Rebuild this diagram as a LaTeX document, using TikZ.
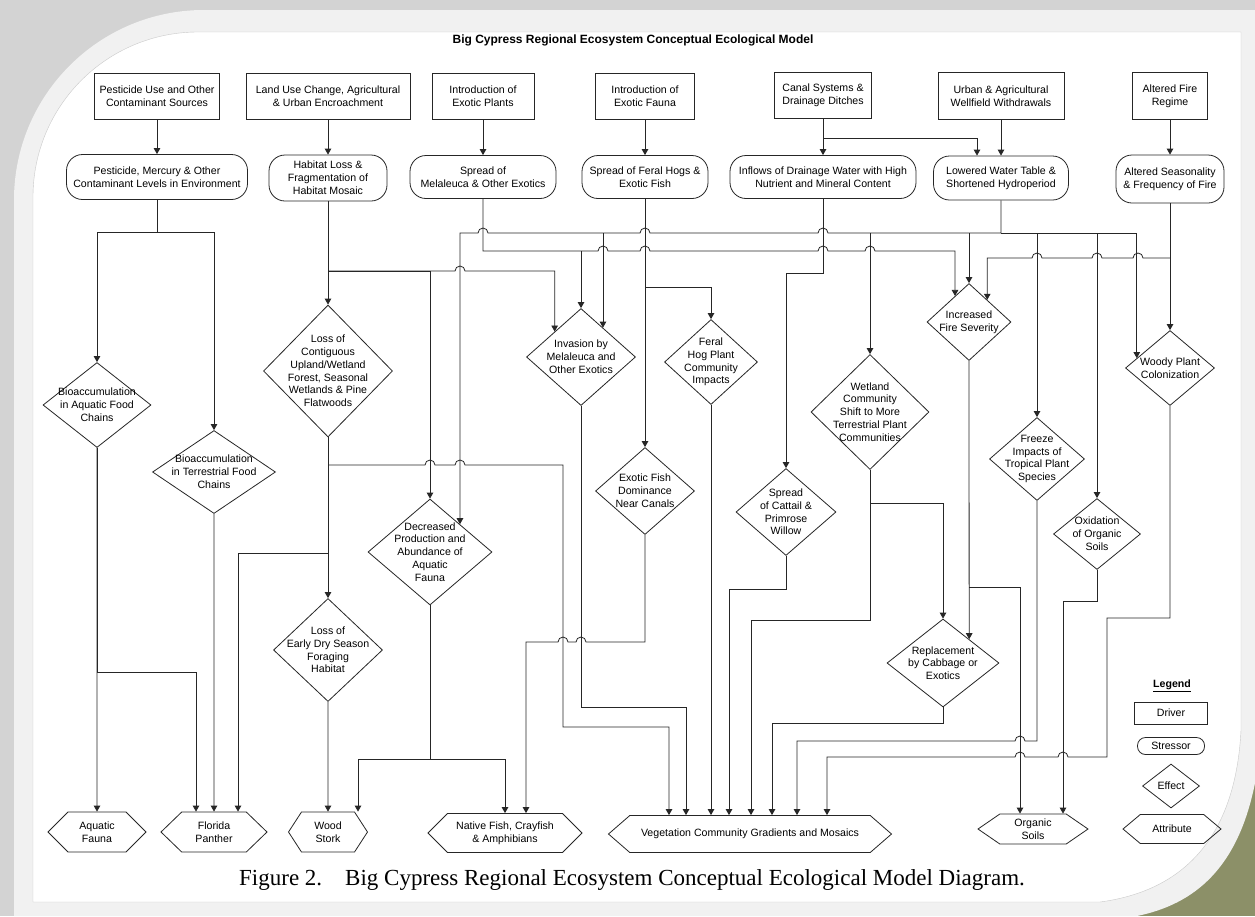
\documentclass[tikz,border=0pt]{standalone}
\usepackage{fontspec}
\setmainfont{Liberation Sans}
\newfontfamily\capfont{Liberation Serif}
\usetikzlibrary{
  arrows.meta,
  calc,
  shapes.geometric,
  shapes.symbols
}
\definecolor{ink}{HTML}{262626}
\definecolor{frame}{HTML}{D3D3D3}
\definecolor{panel}{HTML}{F1F1F1}
\definecolor{rim}{HTML}{C9C9C9}
\definecolor{photo}{HTML}{8C9068}
\tikzset{
  txt/.style={font=\fontsize{10.6}{12.8}\selectfont, align=center, text=black},
  driver/.style={txt, rectangle, draw=ink, line width=0.8pt, inner sep=0pt},
  stressor/.style={driver, rounded corners=16pt},
  effect/.style={diamond, draw=ink, line width=0.8pt, inner sep=0pt},
  attr/.style={txt, signal, signal to=west and east, draw=ink, line width=0.8pt, inner sep=0pt},
  lbl/.style={txt, inner sep=0pt},
  wire/.style={draw=ink, line width=0.8pt},
  conn/.style={wire, -{Triangle[length=6pt,width=6.5pt]}}
}
\newcommand{\hopr}{arc[start angle=180,end angle=0,radius=5pt]}
\newcommand{\hopl}{arc[start angle=0,end angle=180,radius=5pt]}

\begin{document}
\begin{tikzpicture}[x=1pt, y=-1pt]
  \useasboundingbox (0,0) rectangle (1255,916);
  \fill[frame] (0,0) rectangle (1255,916);
  \fill[photo] (1100,740) rectangle (1255,916);
  \fill[panel] (14,916) -- (14,200) arc[start angle=180,end angle=90,radius=190pt]
    -- (1255,10) -- (1255,783) .. controls (1238,868) and (1195,904) .. (1137,916) -- cycle;
  \filldraw[fill=white, draw=rim] (33,902) -- (33,197) arc[start angle=180,end angle=90,radius=165pt]
    -- (1241,32) -- (1241,730) .. controls (1236,830) and (1190,890) .. (1100,902) -- cycle;

  \node[font=\bfseries\fontsize{12}{14}\selectfont] (title) at (633,40)
    {Big Cypress Regional Ecosystem Conceptual Ecological Model};

  \node[driver, minimum width=125pt, minimum height=46pt] (pestsrc) at (157,96)
    {Pesticide Use and Other\\Contaminant Sources};
  \node[driver, minimum width=164pt, minimum height=46pt] (landuse) at (328,96)
    {Land Use Change, Agricultural\\\& Urban Encroachment};
  \node[driver, minimum width=102pt, minimum height=46pt] (exoplant) at (483,96)
    {Introduction of\\Exotic Plants};
  \node[driver, minimum width=99pt, minimum height=46pt] (exofauna) at (645,96)
    {Introduction of\\Exotic Fauna};
  \node[driver, minimum width=97pt, minimum height=46pt] (canal) at (823,95)
    {Canal Systems \&\\Drainage Ditches};
  \node[driver, minimum width=126pt, minimum height=47pt] (wellfield) at (1001,96)
    {Urban \& Agricultural\\Wellfield Withdrawals};
  \node[driver, minimum width=75pt, minimum height=47pt] (firereg) at (1170,96)
    {Altered Fire\\Regime};

  \node[stressor, minimum width=181pt, minimum height=45pt] (contam) at (157,177)
    {Pesticide, Mercury \& Other\\Contaminant Levels in Environment};
  \node[stressor, minimum width=118pt, minimum height=46pt] (habloss) at (328,178)
    {Habitat Loss \&\\Fragmentation of\\Habitat Mosaic};
  \node[stressor, minimum width=146pt, minimum height=43pt] (melspread) at (483,177)
    {Spread of\\Melaleuca \& Other Exotics};
  \node[stressor, minimum width=126pt, minimum height=43pt] (hogspread) at (645,177)
    {Spread of Feral Hogs \&\\Exotic Fish};
  \node[stressor, minimum width=186pt, minimum height=43pt] (inflow) at (823,177)
    {Inflows of Drainage Water with High\\Nutrient and Mineral Content};
  \node[stressor, minimum width=135pt, minimum height=44pt] (lowwater) at (1001,178)
    {Lowered Water Table \&\\Shortened Hydroperiod};
  \node[stressor, minimum width=108pt, minimum height=48pt] (fireseason) at (1170,179)
    {Altered Seasonality\\\& Frequency of Fire};

  \node[effect, minimum width=108pt, minimum height=85pt,
    label={[lbl]center:{Bioaccumulation\\in Aquatic Food\\Chains}}] (bioaq) at (97,405) {};
  \node[effect, minimum width=123pt, minimum height=83pt,
    label={[lbl]center:{Bioaccumulation\\in Terrestrial Food\\Chains}}] (bioterr) at (214,472) {};
  \node[effect, minimum width=129pt, minimum height=132pt,
    label={[lbl]center:{Loss of\\Contiguous\\Upland/Wetland\\Forest, Seasonal\\Wetlands \& Pine\\Flatwoods}}] (contig) at (328,371) {};
  \node[effect, minimum width=109pt, minimum height=97pt,
    label={[lbl]center:{Invasion by\\Melaleuca and\\Other Exotics}}] (invasion) at (581,357) {};
  \node[effect, minimum width=93pt, minimum height=85pt,
    label={[lbl]center:{Feral\\Hog Plant\\Community\\Impacts}}] (hogimpact) at (711,362) {};
  \node[effect, minimum width=99pt, minimum height=87pt,
    label={[lbl]center:{Exotic Fish\\Dominance\\Near Canals}}] (fishdom) at (645,491) {};
  \node[effect, minimum width=100pt, minimum height=87pt,
    label={[lbl]center:{Spread\\of Cattail \&\\Primrose\\Willow}}] (cattail) at (786,512) {};
  \node[effect, minimum width=124pt, minimum height=106pt,
    label={[lbl]center:{Decreased\\Production and\\Abundance of\\Aquatic\\Fauna}}] (decprod) at (430,552) {};
  \node[effect, minimum width=109pt, minimum height=103pt,
    label={[lbl]center:{Loss of\\Early Dry Season\\Foraging\\Habitat}}] (earlydry) at (328,650) {};
  \node[effect, minimum width=84pt, minimum height=77pt,
    label={[lbl]center:{Increased\\Fire Severity}}] (firesev) at (969,322) {};
  \node[effect, minimum width=118pt, minimum height=115pt,
    label={[lbl]center:{Wetland\\Community\\Shift to More\\Terrestrial Plant\\Communities}}] (wetshift) at (870,412) {};
  \node[effect, minimum width=95pt, minimum height=83pt,
    label={[lbl]center:{Freeze\\Impacts of\\Tropical Plant\\Species}}] (freeze) at (1037,459) {};
  \node[effect, minimum width=89pt, minimum height=75pt,
    label={[lbl]center:{Woody Plant\\Colonization}}] (woody) at (1170,368) {};
  \node[effect, minimum width=87pt, minimum height=71pt,
    label={[lbl]center:{Oxidation\\of Organic\\Soils}}] (oxid) at (1097,534) {};
  \node[effect, minimum width=112pt, minimum height=88pt,
    label={[lbl]center:{Replacement\\by Cabbage or\\Exotics}}] (replace) at (943,663) {};

  \node[attr, minimum width=98pt, minimum height=40pt, signal pointer angle=90] (aqfauna) at (97,832)
    {Aquatic\\Fauna};
  \node[attr, minimum width=106pt, minimum height=40pt, signal pointer angle=88] (panther) at (214,832)
    {Florida\\Panther};
  \node[attr, minimum width=79pt, minimum height=40pt, signal pointer angle=114] (stork) at (328,832)
    {Wood\\Stork};
  \node[attr, minimum width=154pt, minimum height=39pt, signal pointer angle=90] (natfish) at (505,833)
    {Native Fish, Crayfish\\\& Amphibians};
  \node[attr, minimum width=283pt, minimum height=37pt, signal pointer angle=82] (veg) at (750,834)
    {Vegetation Community Gradients and Mosaics};
  \node[attr, minimum width=110pt, minimum height=30pt, signal pointer angle=69] (orgsoil) at (1033,829)
    {Organic\\Soils};

  \node[txt, font=\bfseries\fontsize{10.6}{12.8}\selectfont] (legtitle) at (1172,686) {\underline{Legend}};
  \node[driver, minimum width=73pt, minimum height=22pt] (legdriver) at (1171,713) {Driver};
  \node[driver, rounded corners=8pt, minimum width=67pt, minimum height=17pt] (legstress) at (1171,746) {Stressor};
  \node[effect, minimum width=57pt, minimum height=44pt,
    label={[lbl]center:Effect}] (legeffect) at (1171,786) {};
  \node[attr, minimum width=98pt, minimum height=29pt, signal pointer angle=80] (legattr) at (1172,829) {Attribute};

  \coordinate (invL) at ($(invasion.north)!0.48!(invasion.west)$);
  \coordinate (invR) at ($(invasion.north)!0.4!(invasion.east)$);
  \coordinate (dpR) at ($(decprod.north)!0.48!(decprod.east)$);
  \coordinate (fsL) at ($(firesev.north)!0.33!(firesev.west)$);
  \coordinate (fsR) at ($(firesev.north)!0.43!(firesev.east)$);
  \coordinate (woodyL) at ($(woody.north)!0.74!(woody.west)$);
  \coordinate (repR) at ($(replace.north)!0.464!(replace.east)$);
  \coordinate (cb) at (157,232);
  \coordinate (hb) at (328,271);
  \coordinate (lw) at (1001,233);
  \coordinate (mb) at (483,251);
  \coordinate (db) at (430,759);

  \draw[conn] (pestsrc) -- (contam);
  \draw[conn] (landuse) -- (habloss);
  \draw[conn] (exoplant) -- (melspread);
  \draw[conn] (exofauna) -- (hogspread);
  \draw[conn] (canal) -- (inflow);
  \draw[conn] (wellfield) -- (lowwater);
  \draw[conn] (firereg) -- (fireseason);
  \draw[conn] (canal.south) -- ++(0,20) -| ($(lowwater.north)+(-24,0)$);

  \draw[conn] (contam.south) -- (cb) -| (bioaq.north);
  \draw[conn] (cb) -| (bioterr.north);
  \draw[conn] (bioaq) -- (aqfauna);
  \draw[conn] (bioaq.south) -- (97,672) -| ($(panther.north)+(-18,0)$);
  \draw[conn] (bioterr) -- (panther);

  \draw[conn] (habloss) -- (contig);
  \draw[conn] (hb) -| (decprod.north);
  \draw[conn] (hb) -- (455,271) \hopr -| (invL);
  \draw[conn] (contig) -- (earlydry);
  \draw[conn] (328,553) -| ($(panther.north)+(24,0)$);
  \draw[conn] (328,465) -- (425,465) \hopr -- (455,465) \hopr -- (563,465) -- (563,727)
    -| ($(veg.north)+(-81,0)$);
  \draw[conn] (earlydry) -- (stork);

  \draw[conn] (decprod.south) -- (db) -| ($(stork.north)+(30,0)$);
  \draw[conn] (db) -| (natfish.north);

  \draw[conn] (lowwater.south) -- (lw) -- (828,233) \hopl -- (650,233) \hopl -- (488,233) \hopl -| (dpR);
  \draw[wire] (lw) -- (woodyL |- lw);
  \draw[conn] (invR |- lw) -- (invR);
  \draw[conn] (wetshift.north |- lw) -- (wetshift.north);
  \draw[conn] (firesev.north |- lw) -- (firesev.north);
  \draw[conn] (freeze.north |- lw) -- (freeze.north);
  \draw[conn] (oxid.north |- lw) -- (oxid.north);
  \draw[conn] (woodyL |- lw) -- (woodyL);

  \draw[conn] (melspread.south) -- (mb) -- (598,251) \hopr -- (640,251) \hopr -- (818,251) \hopr
    -- (865,251) \hopr -| (fsL);
  \draw[conn] (invasion.north |- mb) -- (invasion.north);

  \draw[conn] (hogspread) -- (fishdom);
  \draw[conn] (645,287) -| (hogimpact.north);
  \draw[conn] (inflow.south) -- (823,273) -| (cattail.north);
  \draw[conn] (fireseason) -- (woody);
  \draw[conn] (1170,258) -- (1143,258) \hopl -- (1102,258) \hopl -- (1042,258) \hopl -| (fsR);

  \draw[conn] (invasion.south) -- (581,707) -| ($(veg.north)+(-64,0)$);
  \draw[conn] (hogimpact.south) -- ($(veg.north)+(-39,0)$);
  \draw[conn] (fishdom.south) -- (645,642) -- (586,642) \hopl -- (568,642) \hopl
    -| ($(natfish.north)+(21,0)$);
  \draw[conn] (cattail.south) -- (786,589) -| ($(veg.north)+(-21,0)$);
  \draw[conn] (wetshift.south) -- (870,620) -| ($(veg.north)+(1,0)$);
  \draw[conn] (870,503) -| (replace.north);
  \draw[conn] (replace.south) -- (943,723) -| ($(veg.north)+(22,0)$);
  \draw[conn] (firesev.south) -- (repR);
  \draw[conn] (969,587) -| ($(orgsoil.north)+(-13,0)$);
  \draw[conn] (freeze.south) -- (1037,741) -- (1025,741) \hopl -| ($(veg.north)+(47,0)$);
  \draw[conn] (oxid.south) -- (1097,601) -| ($(orgsoil.north)+(30,0)$);
  \draw[conn] (woody.south) -- (1170,618) -- (1107,618) -- (1107,757) -- (1068,757) \hopl
    -- (1025,757) \hopl -| ($(veg.north)+(77,0)$);

  \node[font=\capfont\fontsize{23}{27}\selectfont] (caption) at (632,880)
    {Figure 2.\hspace{1em}Big Cypress Regional Ecosystem Conceptual Ecological Model Diagram.};
\end{tikzpicture}
\end{document}
